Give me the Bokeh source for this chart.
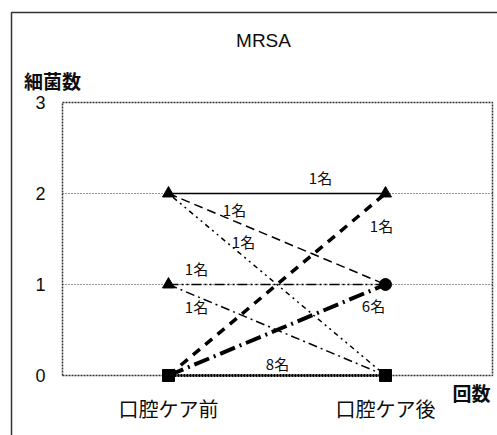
from bokeh.plotting import figure
from bokeh.core.properties import value
from bokeh.embed import file_html
from bokeh.resources import INLINE

# ---- data ----
title_text = "MRSA"
y_title = "細菌数"
x_title = "回数"
categories = ["口腔ケア前", "口腔ケア後"]
cat_pos = [1, 2]
y_ticks = [0, 1, 2, 3]
y_tick_labels = ["0", "1", "2", "3"]
# each series: bacteria count before care -> after care, and number of persons
before = [2, 2, 2, 1, 1, 0, 0, 0]
after = [2, 1, 0, 1, 0, 2, 1, 0]
persons = ["1名", "1名", "1名", "1名", "1名", "1名", "6名", "8名"]

# ---- styles / layout ----
W, H = 497, 435
PX_X, PX_Y = 217.0, 91.0          # pixels per data unit
X0_PX, Y0_PX = 168.0, 375.0       # pixel position of x=1 and y=0
x_start = 1 - X0_PX / PX_X
x_end = x_start + W / PX_X
y_end = Y0_PX / PX_Y
y_start = y_end - H / PX_Y

def dx(px):
    return x_start + px / PX_X

def dy(py):
    return y_end - py / PX_Y

widths = [1.5, 1.5, 1.5, 1.5, 1.5, 3.5, 4, 3]
dashes = ["solid", "9 5", "2 4 5 4 2 4", "10 3 2 3 2 3", "9 4 2 4", "9 7", "16 5 2 5", "2 1"]
lab_px = [(320, 177), (234, 209), (243, 241), (196, 268), (196, 306),
          (381, 225), (373, 305), (277, 363)]

JP = "Noto Sans CJK JP"
LAT = "Liberation Sans"
INK = "#0d0d0d"

p = figure(width=W, height=H, x_range=(x_start, x_end), y_range=(y_start, y_end),
           x_axis_type=None, y_axis_type=None,
           output_backend="svg", toolbar_location=None, min_border=0)
p.background_fill_color = "white"
p.border_fill_color = "white"
p.outline_line_color = None
p.grid.grid_line_color = None

# plot area bounds
ax_l, ax_r = dx(62), dx(492)
ax_b, ax_t = y_ticks[0], y_ticks[-1]

# outer chart frame (left & top edges)
p.line([dx(11), dx(11), dx(W + 5)], [dy(H + 5), dy(12), dy(12)],
       line_color="#333333", line_width=1.5)

# gridlines (dotted)
inner = [t for t in y_ticks if ax_b < t < ax_t]
p.segment(x0=[ax_l] * len(inner), y0=inner, x1=[ax_r] * len(inner), y1=inner,
          line_color="#333333", line_width=1, line_dash="1 2")
# plot area frame (dotted)
p.line([ax_l, ax_r, ax_r, ax_l, ax_l], [ax_b, ax_b, ax_t, ax_t, ax_b],
       line_color="#333333", line_width=1.5, line_dash="2 1")

# series lines
for b, a, w, d in zip(before, after, widths, dashes):
    p.line(cat_pos, [b, a], line_color="black", line_width=w, line_dash=d)

# markers
marker_left = {2: "triangle", 1: "triangle", 0: "square"}
marker_right = {2: "triangle", 1: "circle", 0: "square"}
for v in sorted(set(before)):
    p.scatter([cat_pos[0]], [v], marker=marker_left[v], size=12, color="black")
for v in sorted(set(after)):
    p.scatter([cat_pos[1]], [v], marker=marker_right[v], size=12, color="black")

# person labels
p.text(x=[dx(a) for a, _ in lab_px], y=[dy(b) for _, b in lab_px], text=persons,
       text_font=value(JP), text_font_size="15px", text_align="center",
       text_baseline="middle", text_color=INK)

# y tick labels
p.text(x=[dx(40)] * len(y_ticks), y=y_ticks, text=y_tick_labels,
       text_font=value(LAT), text_font_size="18px", text_align="center",
       text_baseline="middle", text_color=INK)

# category labels
p.text(x=cat_pos, y=[dy(408)] * len(cat_pos), text=categories,
       text_font=value(JP), text_font_size="20px", text_align="center",
       text_baseline="middle", text_color=INK)

# titles
p.text(x=[dx(263)], y=[dy(40)], text=[title_text], text_font=value(LAT),
       text_font_size="19px", text_align="center", text_baseline="middle", text_color=INK)
p.text(x=[dx(52)], y=[dy(80)], text=[y_title], text_font=value(JP),
       text_font_size="19px", text_align="center", text_baseline="middle",
       text_color=INK, text_font_style="bold")
p.text(x=[dx(471)], y=[dy(392)], text=[x_title], text_font=value(JP),
       text_font_size="19px", text_align="center", text_baseline="middle",
       text_color=INK, text_font_style="bold")

open("out.html", "w").write(file_html(p, INLINE))
